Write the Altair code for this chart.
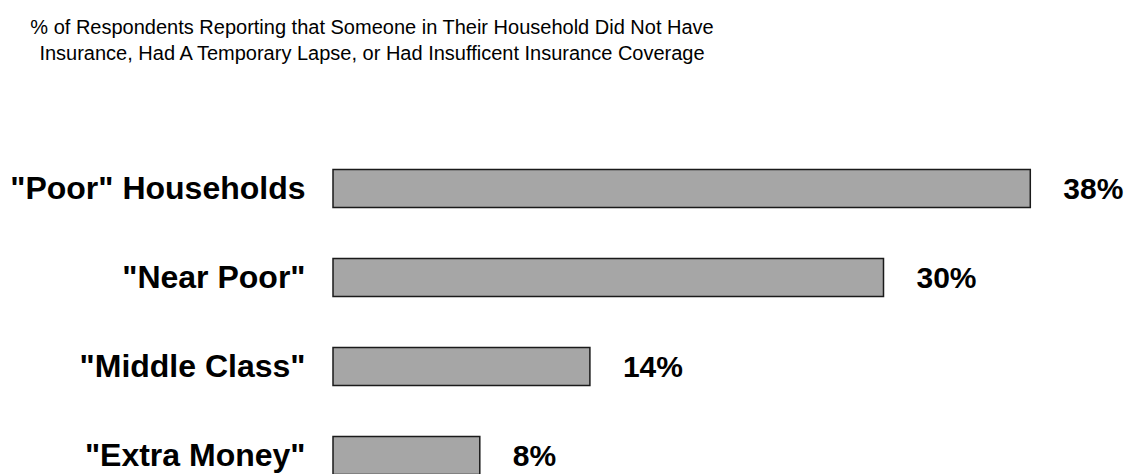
import altair as alt
import pandas as pd

categories = ['"Poor" Households', '"Near Poor"', '"Middle Class"', '"Extra Money"']
values = [38, 30, 14, 8]
value_labels = ["38%", "30%", "14%", "8%"]

title_lines = [
    "% of Respondents Reporting that Someone in Their Household Did Not Have",
    "Insurance, Had A Temporary Lapse, or Had Insufficent Insurance Coverage",
]

df = pd.DataFrame({"category": categories, "value": values, "label": value_labels})

FONT = "Liberation Sans"

y_enc = alt.Y(
    "category:N",
    sort=categories,
    scale=alt.Scale(paddingInner=0.573, paddingOuter=0.2865),
    axis=alt.Axis(
        title=None,
        ticks=False,
        tickSize=0,
        domain=False,
        labelFont=FONT,
        labelFontSize=32,
        labelFontWeight="bold",
        labelColor="#000000",
        labelPadding=28,
        labelLimit=500,
    ),
)
x_enc = alt.X("value:Q", scale=alt.Scale(domain=[0, 40]), axis=None)

bars = alt.Chart(df).mark_bar(
    color="#A6A6A6", stroke="#1a1a1a", strokeWidth=1.5
).encode(x=x_enc, y=y_enc)

labels = alt.Chart(df).mark_text(
    align="left", baseline="middle", dx=33, dy=1,
    font=FONT, fontSize=30, fontWeight="bold", color="#000000"
).encode(x=x_enc, y=y_enc, text="label:N")

chart = alt.layer(bars, labels).properties(
    width=734,
    height=356,
    autosize=alt.AutoSizeParams(type="none"),
    padding={"left": 325, "top": 136, "right": 57, "bottom": 0},
    title=alt.Title(
        text=title_lines,
        anchor="middle",
        frame="group",
        align="center",
        dx=-328,
        dy=-76,
        font=FONT,
        fontSize=20,
        fontWeight="normal",
        color="#000000",
        lineHeight=26,
    ),
).configure(background="#ffffff").configure_view(stroke=None, strokeWidth=0)

chart.save("out.html", embed_options={"renderer": "svg", "actions": False})
